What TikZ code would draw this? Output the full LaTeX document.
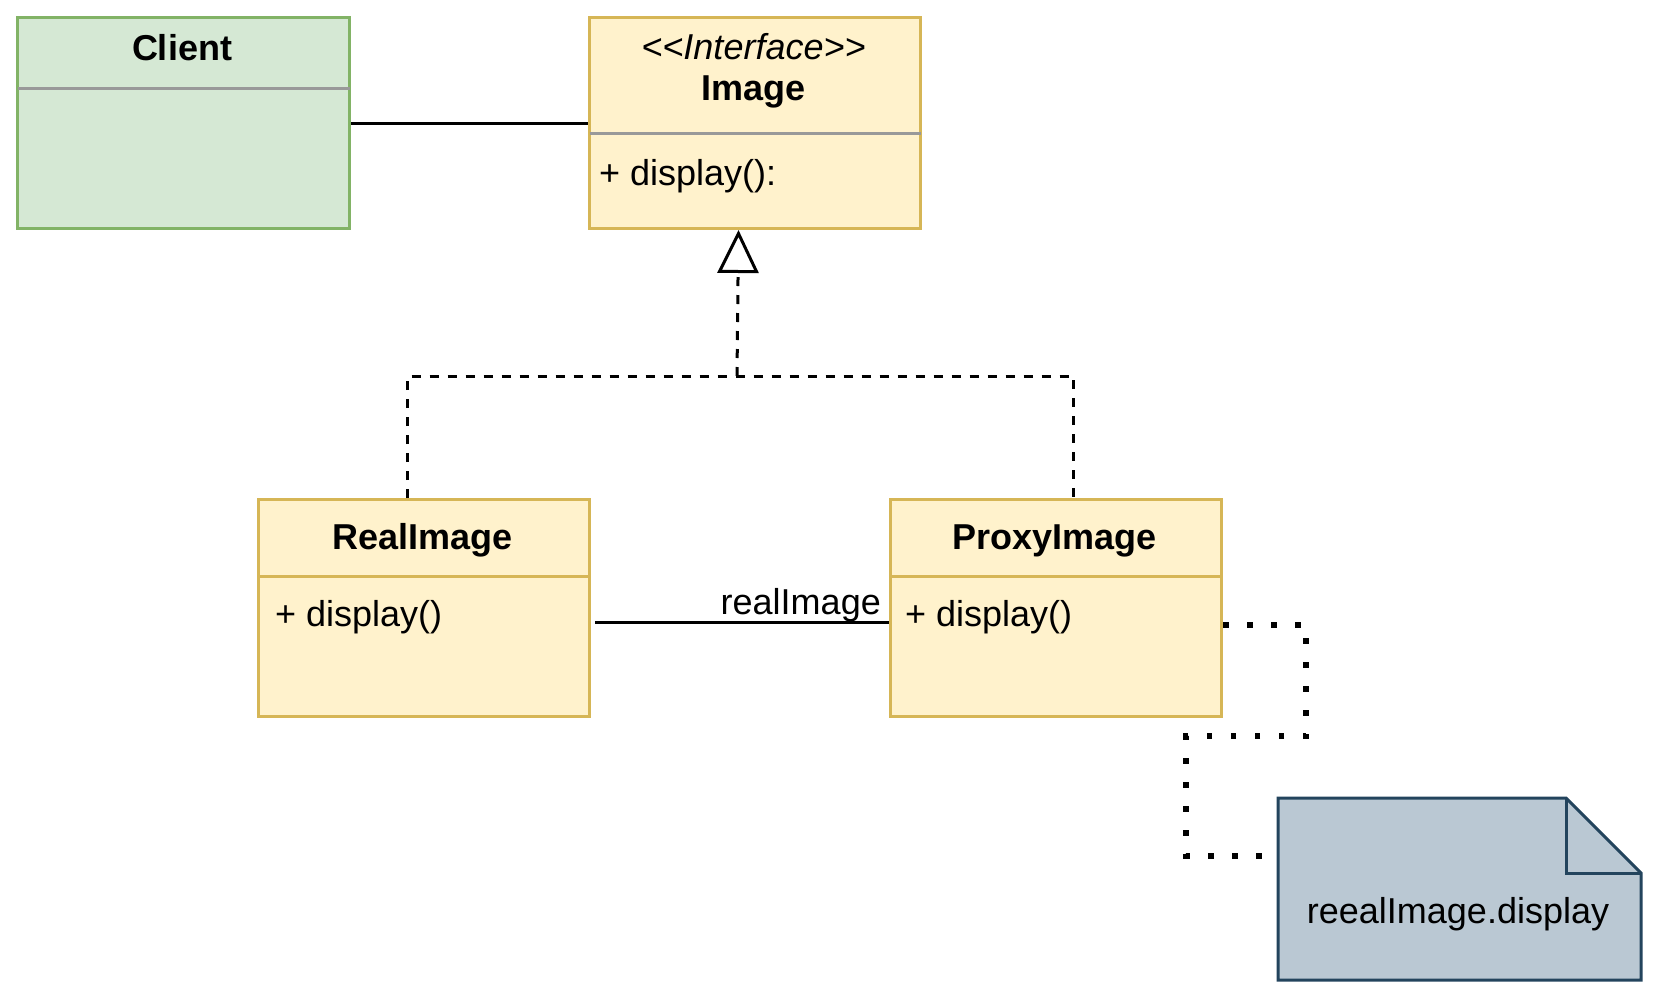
\documentclass[tikz,border=0pt]{standalone}
\usepackage{fontspec}
\setmainfont{Liberation Sans}
\usetikzlibrary{arrows.meta,calc}
\definecolor{gfill}{HTML}{D5E8D4}
\definecolor{gline}{HTML}{82B366}
\definecolor{yfill}{HTML}{FFF2CC}
\definecolor{yline}{HTML}{D6B656}
\definecolor{nfill}{HTML}{BAC8D3}
\definecolor{nline}{HTML}{23445D}
\definecolor{sepgray}{HTML}{999999}
\begin{document}
\begin{tikzpicture}[x=1pt,y=-1pt,
  box/.style={rectangle, line width=3pt, anchor=north west, inner sep=0pt},
  gbox/.style={box, draw=gline, fill=gfill},
  ybox/.style={box, draw=yline, fill=yfill},
  txt/.style={inner sep=0pt, font=\fontsize{36}{43}\selectfont},
  ttl/.style={txt, font=\fontsize{36}{43}\selectfont\bfseries, anchor=base},
  meth/.style={txt, anchor=base west},
  sepg/.style={draw=sepgray, line width=3pt},
  sepy/.style={draw=yline, line width=3pt},
  assoc/.style={draw=black, line width=3pt},
  realize/.style={draw=black, line width=3pt, dash pattern=on 9pt off 9pt},
  dotline/.style={draw=black, line width=5.5pt, dash pattern=on 5.5pt off 18.5pt},
  notestyle/.style={draw=nline, fill=nfill, line width=3pt, line join=miter}
]
\useasboundingbox (0,0) rectangle (1653,993);

% boxes
\node[gbox, minimum width=332pt, minimum height=211pt] (client) at (16,16) {};
\node[ybox, minimum width=331pt, minimum height=211pt] (image) at (588,16) {};
\node[ybox, minimum width=331pt, minimum height=217pt] (real) at (257,498) {};
\node[ybox, minimum width=331pt, minimum height=217pt] (proxy) at (889,498) {};
\node[box, minimum width=360pt, minimum height=179pt] (note) at (1278,798) {};

% separators
\draw[sepg] ($(client.north west)+(1.5,72)$) -- ($(client.north east)+(-1.5,72)$);
\draw[sepg] ($(image.north west)+(1.5,117)$) -- ($(image.north east)+(-1.5,117)$);
\draw[sepy] ($(real.north west)+(0,78)$) -- ($(real.north east)+(0,78)$);
\draw[sepy] ($(proxy.north west)+(0,78)$) -- ($(proxy.north east)+(0,78)$);

% note shape
\draw[notestyle] (note.north west) -- ($(note.north east)+(-75,0)$) -- ($(note.north east)+(0,75)$) -- (note.south east) -- (note.south west) -- cycle;
\draw[notestyle, fill=none] ($(note.north east)+(-75,0)$) |- ($(note.north east)+(0,75)$);

% texts
\node[ttl] (clientT) at (182,60) {Client};
\node[txt, anchor=base, font=\fontsize{36}{43}\selectfont\itshape] (imageS) at (753.5,59) {\textless\kern0pt\textless Interface\textgreater\kern0pt\textgreater};
\node[ttl] (imageT) at (753.5,100) {Image};
\node[meth] (imageM) at (599,185) {+ display():};
\node[ttl] (realT) at (422.5,549) {RealImage};
\node[meth] (realM) at (275,626) {+ display()};
\node[ttl] (proxyT) at (1054.5,549) {ProxyImage};
\node[meth] (proxyM) at (905,626) {+ display()};
\node[txt, anchor=base] (noteT) at (1458,923) {reealImage.display};

% Client -- Image
\draw[assoc] (client.east) -- (image.west);

% realization
\coordinate (apex) at ($(image.south)+(-16.5,0)$);
\coordinate (junction) at (737,376);
\coordinate (realtop) at ($(real.north)+(-16.5,0)$);
\coordinate (proxytop) at ($(proxy.north)+(17.5,0)$);
\draw[realize] (realtop) |- (junction) -| (proxytop);
\draw[realize, -{Triangle[fill=white, length=43pt, width=41pt, line join=miter]}] (junction) -- (apex);

% RealImage -- ProxyImage
\coordinate (ra) at (595,622);
\draw[assoc] (ra) -- (ra -| proxy.west);
\node[txt, anchor=base east] (lbl) at (881,614) {realImage};

% dotted note link
\coordinate (d0) at (1223,625);
\coordinate (d1) at (1306,625);
\coordinate (d2) at (1306,736);
\coordinate (d3) at (1186,736);
\coordinate (d4) at (1186,856);
\draw[dotline] (d0) -- (d1) -- (d2) -- (d3) -- (d4) -- (d4 -| note.west);
\end{tikzpicture}
\end{document}
